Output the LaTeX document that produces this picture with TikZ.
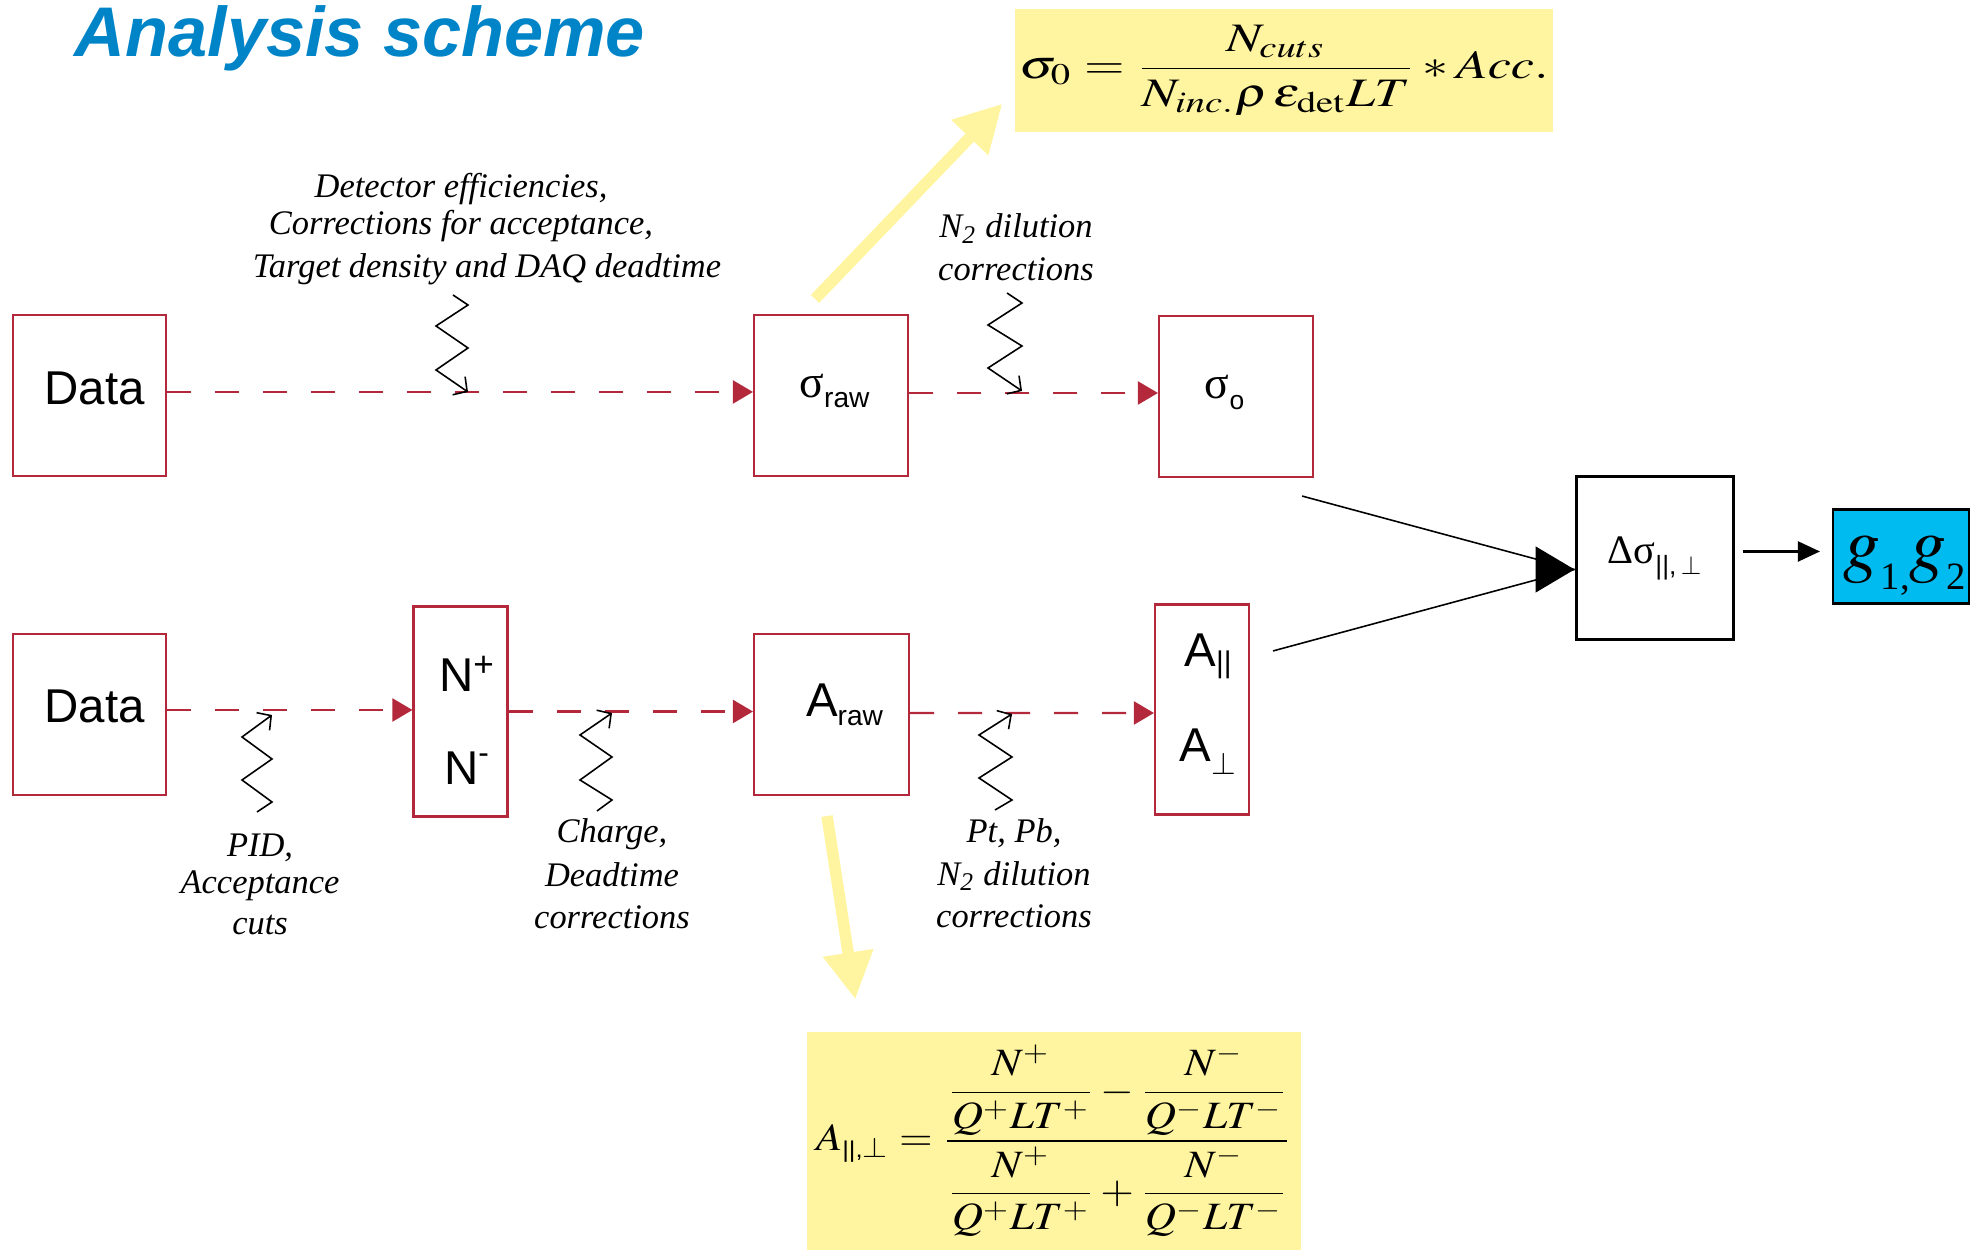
\documentclass[tikz,border=0pt]{standalone}
\usepackage{amsmath}
\usepackage{mathptmx}
\usepackage{fontspec}
\setmainfont{Liberation Serif}
\setsansfont{Liberation Sans}
\usepackage{graphicx}
\usetikzlibrary{arrows.meta}

\definecolor{flowred}{RGB}{180,40,60}
\definecolor{noteyellow}{RGB}{255,245,160}
\definecolor{resultcyan}{RGB}{0,187,240}
\definecolor{titleblue}{RGB}{0,132,200}

% move the ink of #3 by #1 to the right and #2 up, keeping its box size
\newcommand\inkshift[3]{\raisebox{#2}[\height][\depth]{\hspace*{#1}#3\hspace*{-#1}}}
% a small index set at size #2, moved by #1 (negative = down)
\newcommand\idx[3]{\raisebox{#1}{\fontsize{#2}{#2}\selectfont #3}}

\begin{document}
\begin{tikzpicture}[x=0.1mm,y=-0.1mm,
  box/.style={draw=flowred,line width=0.6pt,inner sep=0pt,
    font=\sffamily\fontsize{13.5}{16.2}\selectfont},
  flow/.style={draw=flowred,line width=0.6pt,dash pattern=on 2.4mm off 2.4mm,
    -{Triangle[length=2mm,width=2.3mm]}},
  note/.style={inner sep=0pt,anchor=base,
    font=\rmfamily\itshape\fontsize{9.8}{10.5}\selectfont},
  wiggle/.style={draw=black,line width=0.45pt,{Straight Barb[length=1mm,width=2.2mm]}-},
  hint/.style={draw=noteyellow,line width=1.15mm,-{Triangle[length=4.7mm,width=4.8mm]}},
  formula/.style={fill=noteyellow,inner sep=0pt},
  feed/.style={draw=black,line width=0.45pt},
]
\useasboundingbox (0,0) rectangle (1984,1250);

% title
\node[anchor=base west,inner sep=0pt,text=titleblue,
  font=\sffamily\bfseries\itshape\fontsize{20}{24}\selectfont] (title) at (74,57) {Analysis scheme};

% formula boxes
\node[formula,minimum width=53.8mm,minimum height=12.3mm] (sig0def) at (1284,70.5)
  {\fontsize{11.5}{14}\selectfont\scalebox{1.29}[1]{$\displaystyle\sigma_0=\frac{N_{cuts}}{N_{inc.}\rho\,\varepsilon_{\mathrm{det}}LT}*Acc.$}};
\node[formula,minimum width=49.4mm,minimum height=21.8mm] (asymdef) at (1054,1141)
  {\fontsize{11}{13}\selectfont\scalebox{1.12}[1]{$\displaystyle A_{\mbox{\sffamily\fontsize{6.5}{7}\selectfont ||,}\perp}=\frac{\dfrac{N^+}{Q^+LT^+}-\dfrac{N^-}{Q^-LT^-}}{\dfrac{N^+}{Q^+LT^+}+\dfrac{N^-}{Q^-LT^-}}$}};

% analysis stages
\node[box,minimum width=15.3mm,minimum height=16.1mm] (data1) at (89.5,395.5) {\inkshift{0.5mm}{0.75mm}{Data}};
\node[box,minimum width=15.4mm,minimum height=16.1mm] (sraw) at (831,395.5)
  {\inkshift{0.35mm}{0.45mm}{{\rmfamily\fontsize{13}{15}\selectfont σ}\idx{-3pt}{8}{raw}}};
\node[box,minimum width=15.4mm,minimum height=16.1mm] (sig0) at (1236,396.5)
  {\inkshift{-1.15mm}{0.4mm}{{\rmfamily\fontsize{13}{15}\selectfont σ}\idx{-3pt}{7.5}{o}}};
\node[box,minimum width=15.3mm,minimum height=16.1mm] (data2) at (89.5,714.5) {\inkshift{0.5mm}{0.8mm}{Data}};
\node[box,minimum width=9.4mm,minimum height=21mm] (npm) at (460.5,711.5)
  {\inkshift{0.6mm}{-1.5mm}{\begin{tabular}{@{}c@{}}N\idx{4.3pt}{10}{+}\\[10.3pt]N\idx{6pt}{9}{-}\end{tabular}}};
\node[box,minimum width=15.5mm,minimum height=16.1mm] (araw) at (831.5,714.5)
  {\inkshift{1.3mm}{0.95mm}{A\idx{-2.6pt}{8}{raw}}};
\node[box,minimum width=9.4mm,minimum height=21mm] (apol) at (1202,709.5)
  {\inkshift{0.6mm}{0.7mm}{\begin{tabular}{@{}c@{}}A\idx{-1.6pt}{8.5}{||}\\[10.8pt]A\idx{-3.7pt}{9}{$\perp$}\end{tabular}}};
\node[draw=black,line width=0.85pt,inner sep=0pt,minimum width=15.7mm,minimum height=16.3mm,
  font=\rmfamily\fontsize{11.5}{13}\selectfont] (dsig) at (1654.5,558.5)
  {Δσ\idx{-3pt}{7.5}{\sffamily ||,\,$\perp$}};
\node[draw=black,line width=0.6pt,fill=resultcyan,inner sep=0pt,minimum width=13.6mm,minimum height=9.4mm,
  font=\fontsize{21}{24}\selectfont] (gg) at (1901,556.5)
  {\inkshift{0.4mm}{-0.95mm}{$g$\idx{-6pt}{11}{1,}$g$\idx{-6pt}{11}{2}}};

% correction notes
\node[note] (lab1) at (461,198) {\begin{tabular}[t]{@{}c@{}}Detector efficiencies,\\Corrections for acceptance,\\[1.7pt]\hspace*{5.2mm}Target density and DAQ deadtime\end{tabular}};
\node[note] (lab2) at (1016,238) {\begin{tabular}[t]{@{}c@{}}N\textsubscript{2} dilution\\[1.5pt]corrections\end{tabular}};
\node[note] (lab3) at (260,857) {\begin{tabular}[t]{@{}c@{}}PID,\\Acceptance\\[1pt]cuts\end{tabular}};
\node[note] (lab4) at (612,843) {\begin{tabular}[t]{@{}c@{}}Charge,\\[2pt]Deadtime\\[1.2pt]corrections\end{tabular}};
\node[note] (lab5) at (1014,843) {\begin{tabular}[t]{@{}c@{}}Pt, Pb,\\[1.5pt]N\textsubscript{2} dilution\\[1.5pt]corrections\end{tabular}};

% dashed processing flow
\draw[flow] ([shift={(0,-3.5)}]data1.east) -- ([shift={(0,-3.5)}]sraw.west);
\draw[flow] ([shift={(0,-2.5)}]sraw.east) -- ([shift={(0,-3.5)}]sig0.west);
\draw[flow] ([shift={(0,-4.5)}]data2.east) -- ([shift={(0,-1.5)}]npm.west);
\draw[flow] (npm.east) -- ([shift={(0,-3)}]araw.west);
\draw[flow] ([shift={(0,-1.5)}]araw.east) -- ([shift={(0,3.5)}]apol.west);

% zigzag pointers from the notes to the flow lines
\coordinate (w1) at (468,392);
\coordinate (w2) at (1022,391);
\coordinate (w3) at (272,715);
\coordinate (w4) at (612,713);
\coordinate (w5) at (1012,714);
\draw[wiggle] (w1) -- ++(-32,-22) -- ++(32,-22) -- ++(-32,-22) -- ++(32,-21) -- ++(-15,-10);
\draw[wiggle] (w2) -- ++(-34,-23) -- ++(34,-22) -- ++(-34,-21) -- ++(34,-22) -- ++(-15,-10);
\draw[wiggle] (w3) -- ++(-30,22) -- ++(30,22) -- ++(-30,21) -- ++(30,22) -- ++(-15,10);
\draw[wiggle] (w4) -- ++(-32,22) -- ++(32,22) -- ++(-32,23) -- ++(32,20) -- ++(-15,11);
\draw[wiggle] (w5) -- ++(-33,21) -- ++(33,22) -- ++(-33,21) -- ++(33,22) -- ++(-17,10);

% yellow pointers to the formulas
\draw[hint] ([shift={(-16,-15)}]sraw.north) -- ([shift={(-12,-29)}]sig0def.south west);
\draw[hint] ([shift={(-4.5,20)}]araw.south) -- ([shift={(49,-32)}]asymdef.north west);

% combination into the spin-dependent cross sections
\coordinate (merge) at ([shift={(0,11)}]dsig.west);
\draw[feed] ([shift={(-12,18)}]sig0.south east) -- (merge);
\draw[feed] ([shift={(23,47.5)}]apol.north east) -- (merge);
\draw[line width=0.45pt,-{Triangle[length=3.9mm,width=4.6mm]}] ([xshift=-3.9mm]merge) -- (merge);
\draw[line width=0.6pt,-{Triangle[length=2.2mm,width=2mm]}] ([shift={(8,-7)}]dsig.east) -- ([shift={(-12,-5)}]gg.west);
\end{tikzpicture}
\end{document}
